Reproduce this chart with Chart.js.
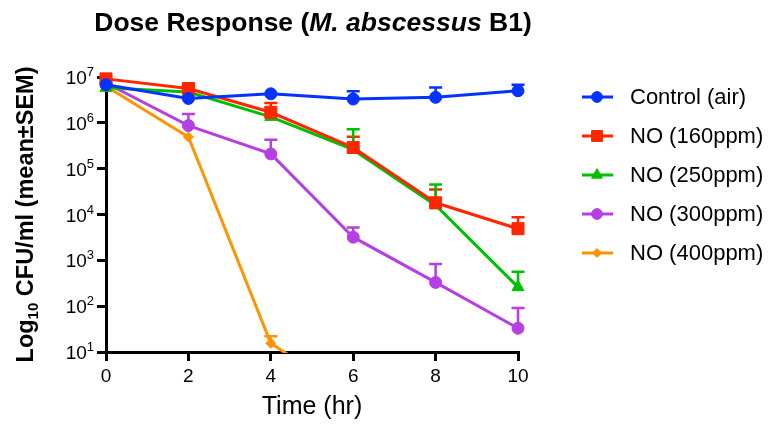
<!DOCTYPE html>
<html>
<head>
<meta charset="utf-8">
<script src="https://cdn.jsdelivr.net/npm/chart.js@4.4.0/dist/chart.umd.min.js"></script>
<style>
  body { margin: 0; background: #fff; }
  #wrap { width: 770px; height: 425px; }
</style>
</head>
<body>
<div id="wrap"><canvas id="DoseChart" width="770" height="425"></canvas></div>
<script>
// time points (hr)
var hours = [0, 2, 4, 6, 8, 10];

// CFU/ml means and upper SEM
var controlAir    = [6.8e6, 3.4e6, 4.3e6, 3.3e6, 3.6e6, 5.0e6];
var controlAirSem = [0, 0, 0, 1.6e6, 2.3e6, 1.8e6];
var no160         = [9.1e6, 5.6e6, 1.7e6, 2.9e5, 1.8e4, 4.9e3];
var no160Sem      = [0, 1.2e6, 1.0e6, 2.1e5, 1.7e4, 3.8e3];
var no250         = [5.8e6, 4.7e6, 1.35e6, 2.6e5, 1.6e4, 2.6e2];
var no250Sem      = [0, 1.5e6, 1e5, 4.6e5, 2.9e4, 3.0e2];
var no300         = [7.4e6, 8.7e5, 2.1e5, 3.2e3, 3.3e2, 33];
var no300Sem      = [0, 6.8e5, 2.2e5, 2.0e3, 5.0e2, 58];
var no400         = [6.3e6, 4.9e5, 15.5, 1, 1, 1];
var no400Sem      = [0, 0, 6.5, 0, 0, 0];

var seriesNames = ['Control (air)', 'NO (160ppm)', 'NO (250ppm)', 'NO (300ppm)', 'NO (400ppm)'];
var xTickValues = [0, 2, 4, 6, 8, 10];
var yTickExponents = [1, 2, 3, 4, 5, 6, 7];

var FONT = '"Liberation Sans", Arial, Helvetica, sans-serif';

var color = {
  blue: '#0433FF',
  red: '#FF2600',
  green: '#00BF00',
  purple: '#B63FE4',
  orange: '#FF9300'
};

function makeSet(label, values, sem, col, style, radius) {
  return {
    label: label,
    data: values.map(function (v, i) { return { x: hours[i], y: v }; }),
    sem: sem,
    borderColor: col,
    backgroundColor: col,
    borderWidth: 3,
    pointStyle: style,
    pointRadius: radius,
    pointHoverRadius: radius,
    pointBorderWidth: 1,
    tension: 0,
    clip: { left: false, top: false, right: false, bottom: 1 }
  };
}

var datasets = [
  makeSet(seriesNames[0], controlAir, controlAirSem, color.blue, 'circle', 6),
  makeSet(seriesNames[1], no160, no160Sem, color.red, 'rect', 8.5),
  makeSet(seriesNames[2], no250, no250Sem, color.green, 'triangle', 7),
  makeSet(seriesNames[3], no300, no300Sem, color.purple, 'circle', 6),
  makeSet(seriesNames[4], no400, no400Sem, color.orange, 'rectRot', 5)
];

// upper error bars, Prism style
var errorBars = {
  id: 'errorBars',
  beforeDatasetsDraw: function (chart) {
    var ctx = chart.ctx;
    var yScale = chart.scales.y;
    ctx.save();
    chart.data.datasets.forEach(function (ds, i) {
      var meta = chart.getDatasetMeta(i);
      ctx.strokeStyle = ds.borderColor;
      ctx.lineWidth = 2.5;
      ds.data.forEach(function (p, j) {
        var s = ds.sem[j];
        if (!s) return;
        var pt = meta.data[j];
        var top = yScale.getPixelForValue(p.y + s);
        ctx.beginPath();
        ctx.moveTo(pt.x, pt.y);
        ctx.lineTo(pt.x, top);
        ctx.moveTo(pt.x - 6.5, top);
        ctx.lineTo(pt.x + 6.5, top);
        ctx.stroke();
      });
    });
    ctx.restore();
  }
};

// tick labels, titles and legend
var labels = {
  id: 'labels',
  afterDraw: function (chart) {
    var ctx = chart.ctx;
    var xs = chart.scales.x, ys = chart.scales.y;
    var area = chart.chartArea;
    ctx.save();
    ctx.fillStyle = '#000';

    // y ticks 10^n
    yTickExponents.forEach(function (e) {
      var y = ys.getPixelForValue(Math.pow(10, e));
      ctx.font = '13px ' + FONT;
      ctx.textAlign = 'right';
      ctx.textBaseline = 'alphabetic';
      var supW = ctx.measureText(String(e)).width;
      ctx.fillText(String(e), 94, y - 1);
      ctx.font = '19px ' + FONT;
      ctx.fillText('10', 94 - supW, y + 7);
    });

    // x ticks
    ctx.font = '19px ' + FONT;
    ctx.textAlign = 'center';
    xTickValues.forEach(function (v) {
      ctx.fillText(String(v), xs.getPixelForValue(v), 382);
    });

    // x title
    ctx.font = '25px ' + FONT;
    ctx.fillText('Time (hr)', (area.left + area.right) / 2, 414);

    // chart title with italic species name
    var parts = [
      ['bold ', 'Dose Response ('],
      ['italic bold ', 'M. abscessus'],
      ['bold ', ' B1)']
    ];
    var tsize = '26.5px ';
    var total = 0;
    parts.forEach(function (p) { ctx.font = p[0] + tsize + FONT; total += ctx.measureText(p[1]).width; });
    var tx = 313 - total / 2;
    ctx.textAlign = 'left';
    parts.forEach(function (p) {
      ctx.font = p[0] + tsize + FONT;
      ctx.fillText(p[1], tx, 31);
      tx += ctx.measureText(p[1]).width;
    });

    // y title, rotated, with subscript 10
    ctx.save();
    ctx.translate(33, (area.top + area.bottom) / 2);
    ctx.rotate(-Math.PI / 2);
    var yParts = [
      ['bold 23.5px ', 'Log', 0],
      ['bold 15px ', '10', 5],
      ['bold 23.5px ', ' CFU/ml (mean\u00b1SEM)', 0]
    ];
    var yw = 0;
    yParts.forEach(function (p) { ctx.font = p[0] + FONT; yw += ctx.measureText(p[1]).width; });
    var yx = -yw / 2;
    yParts.forEach(function (p) {
      ctx.font = p[0] + FONT;
      ctx.fillText(p[1], yx, p[2]);
      yx += ctx.measureText(p[1]).width;
    });
    ctx.restore();

    // legend
    chart.data.datasets.forEach(function (ds, i) {
      var ly = 97 + i * 39;
      ctx.strokeStyle = ds.borderColor;
      ctx.fillStyle = ds.backgroundColor;
      ctx.lineWidth = 3;
      ctx.beginPath();
      ctx.moveTo(582, ly);
      ctx.lineTo(613, ly);
      ctx.stroke();
      ctx.lineWidth = 1;
      Chart.helpers.drawPoint(ctx, { pointStyle: ds.pointStyle, radius: ds.pointRadius * 0.9, rotation: 0, borderWidth: 1 }, 597, ly);
      ctx.fillStyle = '#000';
      ctx.font = '22px ' + FONT;
      ctx.textAlign = 'left';
      ctx.textBaseline = 'middle';
      ctx.fillText(ds.label, 630, ly + 1);
      ctx.textBaseline = 'alphabetic';
    });
    ctx.restore();
  }
};

var axisGrid = {
  drawOnChartArea: false,
  drawTicks: true,
  tickLength: 9,
  lineWidth: 3,
  color: '#000'
};

var config = {
  type: 'line',
  data: { datasets: datasets },
  options: {
    responsive: false,
    devicePixelRatio: 1,
    animation: false,
    layout: { padding: { top: 77, right: 252, left: 0, bottom: 0 } },
    plugins: {
      legend: { display: false },
      title: { display: false },
      tooltip: { enabled: false }
    },
    scales: {
      x: {
        type: 'linear',
        min: 0,
        max: 10,
        afterBuildTicks: function (s) { s.ticks = xTickValues.map(function (v) { return { value: v }; }); },
        afterFit: function (s) { s.height = 73; },
        grid: axisGrid,
        border: { display: true, width: 3, color: '#000' },
        ticks: { display: false }
      },
      y: {
        type: 'logarithmic',
        min: 10,
        max: 1e7,
        afterBuildTicks: function (s) { s.ticks = yTickExponents.map(function (e) { return { value: Math.pow(10, e) }; }); },
        afterFit: function (s) { s.width = 106; },
        grid: axisGrid,
        border: { display: true, width: 3, color: '#000' },
        ticks: { display: false }
      }
    }
  },
  plugins: [errorBars, labels]
};

var ctx = document.getElementById('DoseChart').getContext('2d');
window.doseChart = new Chart(ctx, config);
</script>
</body>
</html>
